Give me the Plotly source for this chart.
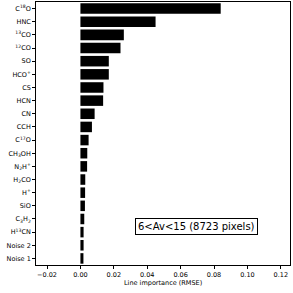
import plotly.graph_objects as go

lines = ["C<sup>18</sup>O", "HNC", "<sup>13</sup>CO", "<sup>12</sup>CO", "SO", "HCO<sup>+</sup>",
         "CS", "HCN", "CN", "CCH", "C<sup>17</sup>O", "CH<sub>3</sub>OH", "N<sub>2</sub>H<sup>+</sup>",
         "H<sub>2</sub>CO", "H<sup>+</sup>", "SiO", "C<sub>3</sub>H<sub>2</sub>", "H<sup>13</sup>CN",
         "Noise 2", "Noise 1"]
importance = [0.084, 0.045, 0.026, 0.024, 0.017, 0.017, 0.0138, 0.0136, 0.0085, 0.0069,
              0.0049, 0.0041, 0.0040, 0.0029, 0.0028, 0.0027, 0.0023, 0.0019, 0.0019, 0.0018]
xticks = [-0.02, 0.00, 0.02, 0.04, 0.06, 0.08, 0.10, 0.12]
label = "6<Av<15 (8723 pixels)"
xtitle = "Line importance (RMSE)"

font = "DejaVu Sans"
fig = go.Figure(go.Bar(x=importance, y=lines, orientation="h", marker=dict(color="black", line=dict(width=0)),
                       width=0.8, hoverinfo="skip"))
fig.update_layout(
    width=293, height=293, margin=dict(l=36, r=3, t=2, b=28),
    plot_bgcolor="white", paper_bgcolor="white", showlegend=False,
    font=dict(family=font, size=6.5, color="black"),
    xaxis=dict(range=[-0.0266, 0.1255], tickvals=xticks, tickformat=".2f", ticks="outside", ticklen=3,
               tickwidth=0.8, tickcolor="black", showline=True, mirror=True, linecolor="black", linewidth=0.8,
               showgrid=False, zeroline=False, automargin=False),
    yaxis=dict(range=[19.5, -0.5], ticks="outside", ticklen=3, tickwidth=0.8, tickcolor="black",
               showline=True, mirror=True, linecolor="black", linewidth=0.8, showgrid=False, zeroline=False,
               automargin=False),
    annotations=[dict(text=label, xref="paper", yref="paper", x=0.63, y=0.114, showarrow=False,
                      font=dict(size=10, color="black"), bgcolor="white", bordercolor="black",
                      borderwidth=1, borderpad=2),
                 dict(text=xtitle, xref="paper", yref="paper", x=0.5, y=-0.068, yanchor="middle",
                      showarrow=False, font=dict(size=6.5, color="black"))],
)
fig.write_html("out.html", config={"displayModeBar": False},
               post_script="document.body.style.margin='0';")
